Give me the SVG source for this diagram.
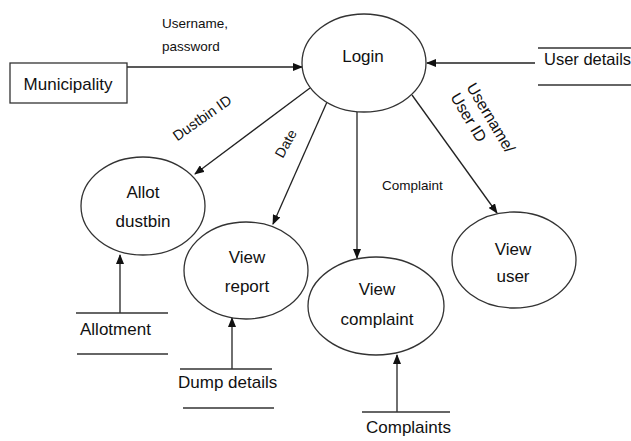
<svg xmlns="http://www.w3.org/2000/svg" width="631" height="441" viewBox="0 0 631 441">
<style>
.sh{fill:#fff;stroke:#333;stroke-width:1.3}
.ln{stroke:#222;stroke-width:1.3;fill:none}
.st{stroke:#333;stroke-width:1.3}
.t{font-family:"Liberation Sans",Arial,sans-serif;font-size:17px;fill:#111}
.c{text-anchor:middle}
.s{font-family:"Liberation Sans",Arial,sans-serif;font-size:13.5px;fill:#111}
</style>
<defs>
<marker id="ah" markerWidth="10" markerHeight="8" refX="9" refY="4" orient="auto" markerUnits="userSpaceOnUse">
<path d="M0,0 L10,4 L0,8 z" fill="#111"/>
</marker>
</defs>
<rect width="631" height="441" fill="#fff"/>
<g id="connectors">
<line class="ln" x1="127" y1="67" x2="302" y2="67" marker-end="url(#ah)"/>
<line class="ln" x1="535" y1="63" x2="427" y2="63" marker-end="url(#ah)"/>
<line class="ln" x1="310" y1="88" x2="195" y2="174" marker-end="url(#ah)"/>
<line class="ln" x1="327" y1="102" x2="273" y2="224" marker-end="url(#ah)"/>
<line class="ln" x1="357" y1="112" x2="357" y2="258" marker-end="url(#ah)"/>
<line class="ln" x1="412" y1="95" x2="497" y2="213" marker-end="url(#ah)"/>
<line class="ln" x1="120" y1="313" x2="120" y2="255" marker-end="url(#ah)"/>
<line class="ln" x1="232" y1="369" x2="232" y2="318" marker-end="url(#ah)"/>
<line class="ln" x1="397" y1="412" x2="397" y2="355" marker-end="url(#ah)"/>
<text class="s" x="162" y="28">Username,</text>
<text class="s" x="162" y="51">password</text>
<text class="s c" transform="translate(205,122) rotate(-35)" style="font-size:14.5px">Dustbin ID</text>
<text class="s c" transform="translate(290,146) rotate(-61)" style="font-size:14px">Date</text>
<text class="s" transform="translate(466,87) rotate(59)" style="font-size:16px">Username/</text>
<text class="s" transform="translate(450,97) rotate(59)" style="font-size:16px">User ID</text>
<text class="s" x="382" y="190">Complaint</text>
</g>
<g id="municipality">
<rect class="sh" x="10" y="63" width="117" height="40"/>
<text class="t c" x="68" y="90">Municipality</text>
</g>
<g id="login">
<ellipse class="sh" cx="364" cy="63" rx="62" ry="49"/>
<text class="t c" x="363" y="62">Login</text>
</g>
<g id="user-details">
<line class="st" x1="538" y1="48" x2="631" y2="48"/>
<line class="st" x1="538" y1="85" x2="631" y2="85"/>
<text class="t" x="544" y="65" style="font-size:16.5px">User details</text>
</g>
<g id="allot-dustbin">
<ellipse class="sh" cx="143" cy="206" rx="62" ry="49"/>
<text class="t c" x="143" y="198">Allot</text>
<text class="t c" x="143" y="227">dustbin</text>
</g>
<g id="view-report">
<ellipse class="sh" cx="246" cy="270.5" rx="62" ry="48.5"/>
<text class="t c" x="247" y="263">View</text>
<text class="t c" x="247" y="292">report</text>
</g>
<g id="view-complaint">
<ellipse class="sh" cx="376" cy="306" rx="68" ry="49"/>
<text class="t c" x="377" y="295">View</text>
<text class="t c" x="377" y="325">complaint</text>
</g>
<g id="view-user">
<ellipse class="sh" cx="514" cy="260" rx="62" ry="48"/>
<text class="t c" x="513" y="255">View</text>
<text class="t c" x="513" y="282">user</text>
</g>
<g id="allotment">
<line class="st" x1="76" y1="313" x2="168" y2="313"/>
<line class="st" x1="77" y1="354" x2="168" y2="354"/>
<text class="t" x="80" y="335">Allotment</text>
</g>
<g id="dump-details">
<line class="st" x1="180" y1="369" x2="272" y2="369"/>
<line class="st" x1="183" y1="408" x2="274" y2="408"/>
<text class="t" x="178" y="388">Dump details</text>
</g>
<g id="complaints">
<line class="st" x1="362" y1="412" x2="450" y2="412"/>
<text class="t" x="366" y="433">Complaints</text>
</g>
</svg>
